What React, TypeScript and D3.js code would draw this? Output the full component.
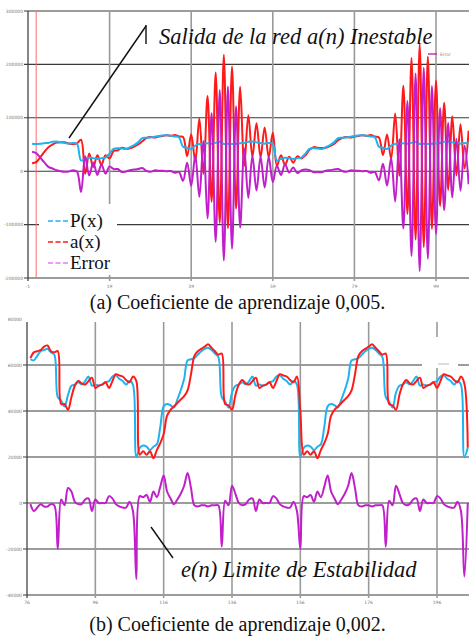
import React from 'react';
import * as d3 from 'd3';

const W = 469;
const H = 639;

// (a) muestras n = 0..107
const topStart = 0;
const topP = [
  51500, 51000, 51500, 52500, 53000, 55000, 55500, 54000, 53000, 51500, 53000, 51500,
  20000, 23000, 25000, 24500, 23000, 24500, 25500, 33000, 42000, 43000, 42500, 41500,
  45000, 49000, 54000, 62000, 62500, 63000, 64500, 66000, 67000, 67500, 66500, 65000,
  63500, 46000, 44000, 41500, 48000, 51000, 51500, 52500, 51500, 53000, 55000, 51000,
  51500, 51000, 51500, 52500, 53000, 55000, 55500, 54000, 53000, 51500, 53000, 51500,
  20000, 23000, 25000, 24500, 23000, 24500, 25500, 33000, 42000, 43000, 42500, 41500,
  45000, 49000, 54000, 62000, 62500, 63000, 64500, 66000, 67000, 67500, 66500, 65000,
  63500, 46000, 44000, 41500, 48000, 51000, 51500, 52500, 51500, 53000, 55000, 51000,
  51500, 51000, 51500, 52500, 53000, 55000, 55500, 54000, 53000, 51500, 53000, 51500,
];
const topA = [
  15000, 17000, 26000, 36000, 45000, 50000, 53500, 54000, 54000, 52000, 51000, 52000,
  59000, -5000, 33000, 8000, 30000, 12000, 30000, 24000, 38000, 39000, 44000, 42000,
  43000, 46000, 50000, 56000, 62000, 64000, 63000, 65000, 66000, 67500, 66000, 68000,
  65000, 64000, 28000, 69000, 18000, 99000, -5000, 141000, -57000, 185000, -97000, 218000,
  -107000, 196000, -70000, 158000, 10000, 105000, 26500, 90000, 26000, 82000, 26000, 72000,
  10000, 30000, 12000, 27000, 16000, 28000, 24000, 30000, 40000, 45000, 44000, 43500,
  44000, 47000, 51000, 58000, 62000, 64000, 63000, 65000, 66000, 67500, 66000, 68000,
  65000, 63000, 30000, 68500, 23000, 108000, -8500, 160000, -80000, 212000, -128000, 238000,
  -142000, 215000, -108000, 170000, -65000, 128000, -35000, 103000, -8000, 88000, 5000, 76000,
];
const topXTicks = [-1, 19, 39, 59, 79, 99];
const topYTicks = [300000, 200000, 100000, 0, -100000, -200000];
const topMarkerN = 1;

// (b) muestras n = 77..205
const botStart = 77;
const botP = [
  62500, 62000, 64000, 66000, 66500, 67000, 65500, 64500, 46000, 44500, 42000, 47000,
  51000, 51500, 52500, 51500, 53000, 55000, 51000, 51500, 51000, 51500, 52500, 53000,
  55000, 55500, 54000, 53000, 51500, 53000, 51500, 20000, 24000, 25000, 24500, 23000,
  24500, 25500, 33000, 42000, 43000, 42500, 41500, 45000, 49000, 54000, 62000, 62500,
  63000, 64500, 66000, 67000, 67500, 66500, 65000, 63500, 46000, 44000, 41500, 48000,
  51000, 51500, 52500, 51500, 53000, 55000, 51000, 51500, 51000, 51500, 52500, 53000,
  55000, 55500, 54000, 53000, 51500, 53000, 51500, 20000, 24000, 25000, 24500, 23000,
  24500, 25500, 33000, 42000, 43000, 42500, 41500, 45000, 49000, 54000, 62000, 62500,
  63000, 64500, 66000, 67000, 67500, 66500, 65000, 63500, 46000, 44000, 41500, 48000,
  51000, 51500, 52500, 51500, 53000, 55000, 51000, 51500, 51000, 51500, 52500, 53000,
  55000, 55500, 54000, 53000, 51500, 53000, 51500, 20000, 24000,
];
const botA = [
  63000, 65500, 66000, 66500, 68000, 68500, 66000, 65500, 66000, 43000, 43000, 40500,
  46000, 51000, 53000, 52000, 51500, 53000, 54500, 50000, 51000, 51500, 52500, 50000,
  53000, 56000, 55500, 55000, 53500, 52500, 55000, 53000, 21000, 22500, 21000, 22500,
  19500, 23000, 26000, 30000, 38000, 40500, 42000, 43500, 45000, 46500, 49000, 56000,
  64000, 66000, 67000, 68000, 69000, 67500, 66000, 64500, 65000, 43000, 42500, 40500,
  47000, 51500, 53500, 52000, 51500, 53000, 54500, 50000, 51000, 51500, 52500, 50000,
  53000, 56000, 55500, 55000, 53500, 52500, 55000, 40000, 21000, 22500, 21000, 22500,
  19500, 23000, 26000, 30000, 38000, 40500, 42000, 43500, 45000, 46500, 49000, 56000,
  64000, 66000, 67000, 68000, 69000, 67500, 66000, 64500, 65000, 43000, 42500, 40500,
  47000, 51500, 53500, 52000, 51500, 53000, 54500, 50000, 51000, 51500, 52500, 50000,
  53000, 56000, 55500, 55000, 53500, 52500, 55000, 52000, 24000,
];
const botXTicks = [76, 96, 116, 136, 156, 176, 196];
const botYTicks = [80000, 60000, 40000, 20000, 0, -20000, -40000];

const legendNames = ['P(x)', 'a(x)', 'Error'];
const captionA = '(a) Coeficiente de aprendizaje 0,005.';
const captionB = '(b) Coeficiente de aprendizaje 0,002.';
const noteA = 'Salida de la red a(n) Inestable';
const noteB = 'e(n) Limite de Estabilidad';

const cP = '#1fb3ee';
const cA = '#ff1a1a';
const cE = '#c01fcb';
const legendColors = [cP, cA, '#e07ef0'];

const serif = 'Liberation Serif';
const tiny = 'DejaVu Sans';

type Pt = [number, number];
const toPts = (start: number, vals: number[]): Pt[] => vals.map((v, i) => [start + i, v]);

export default function App() {
  const xT = d3.scaleLinear().domain([-1, 99]).range([28, 436]);
  const yT = d3.scaleLinear().domain([-200000, 300000]).range([278, 11]);
  const xB = d3.scaleLinear().domain([76, 196]).range([27, 437]);
  const yB = d3.scaleLinear().domain([-40000, 80000]).range([595, 319]);

  const curve = d3.curveCatmullRom.alpha(0.5);
  const lineT = d3.line<Pt>().x(d => xT(d[0])).y(d => yT(d[1])).curve(curve);
  const lineB = d3.line<Pt>().x(d => xB(d[0])).y(d => yB(d[1])).curve(curve);

  const topE = topP.map((p, i) => p - topA[i]);
  const botE = botP.map((p, i) => p - botA[i]);

  return (
    <div style={{ position: 'absolute', left: 0, top: 0 }}>
      <svg width={W} height={H} style={{ display: 'block', background: '#fff' }}>
        <defs>
          <clipPath id="clipT"><rect x={28} y={0} width={W - 28} height={285} /></clipPath>
          <clipPath id="clipB"><rect x={27} y={318} width={W - 27} height={282} /></clipPath>
        </defs>

        {/* ---------- panel (a) ---------- */}
        <g>
          {topYTicks.map(t => (
            <g key={'ty' + t}>
              <line x1={24} x2={W} y1={yT(t)} y2={yT(t)} stroke="#3a3a3a" strokeWidth={1.1} />
              <text x={23} y={yT(t) + 1.6} fontSize={4.5} fontFamily={tiny} fill="#777" textAnchor="end">{t}</text>
            </g>
          ))}
          {topXTicks.map(t => (
            <g key={'tx' + t}>
              {t !== -1 && <line x1={xT(t)} x2={xT(t)} y1={yT(300000)} y2={281} stroke="#9a9a9a" strokeWidth={1.6} />}
              <text x={xT(t)} y={288} fontSize={4.5} fontFamily={tiny} fill="#777" textAnchor="middle">{t}</text>
            </g>
          ))}
          <line x1={28} x2={28} y1={yT(300000)} y2={281} stroke="#444" strokeWidth={1.3} />
          <line x1={xT(topMarkerN)} x2={xT(topMarkerN)} y1={yT(300000)} y2={278} stroke="#ff6a6a" strokeWidth={1} />

          <rect x={39} y={204} width={78} height={71} fill="#fff" />

          <g clipPath="url(#clipT)" fill="none" strokeWidth={2} strokeLinejoin="round">
            <path d={lineT(toPts(topStart, topA)) ?? ''} stroke={cA} />
            <path d={lineT(toPts(topStart, topP)) ?? ''} stroke={cP} />
            <path d={lineT(toPts(topStart, topE)) ?? ''} stroke={cE} />
          </g>

          {legendNames.map((name, i) => (
            <g key={name}>
              <line x1={48} x2={68} y1={221 + i * 21} y2={221 + i * 21} stroke={legendColors[i]} strokeWidth={1.6} strokeDasharray="5 2.5" />
              <text x={70} y={227 + i * 21} fontSize={19} fontFamily={serif} fill="#111">{name}</text>
            </g>
          ))}

          <line x1={428} x2={437} y1={54} y2={54} stroke={cE} strokeWidth={1.4} />
          <text x={440} y={56} fontSize={4.5} fontFamily={tiny} fill="#888">Error</text>

          <line x1={146} x2={69} y1={26} y2={138} stroke="#111" strokeWidth={1.4} />
          <line x1={146} x2={146} y1={25} y2={44} stroke="#111" strokeWidth={1.4} />
          <text x={159} y={44} fontSize={22.5} fontStyle="italic" fontFamily={serif} fill="#111">{noteA}</text>

          <text x={237.5} y={309} fontSize={20} fontFamily={serif} fill="#111" textAnchor="middle">{captionA}</text>
        </g>

        {/* ---------- panel (b) ---------- */}
        <g>
          {botYTicks.map(t => (
            <g key={'by' + t}>
              {t !== 80000 && <line x1={23} x2={W} y1={yB(t)} y2={yB(t)} stroke="#3a3a3a" strokeWidth={1.1} />}
              <text x={22} y={yB(t) + 1.6} fontSize={4.5} fontFamily={tiny} fill="#777" textAnchor="end">{t}</text>
            </g>
          ))}
          {botXTicks.map(t => (
            <g key={'bx' + t}>
              {t !== 76 && <line x1={xB(t)} x2={xB(t)} y1={322} y2={598} stroke="#9a9a9a" strokeWidth={1.6} />}
              <text x={xB(t)} y={604} fontSize={4.5} fontFamily={tiny} fill="#777" textAnchor="middle">{t}</text>
            </g>
          ))}
          <line x1={27} x2={27} y1={322} y2={598} stroke="#444" strokeWidth={1.3} />

          <rect x={422} y={337} width={36} height={31} fill="#fff" />
          <line x1={438} x2={449} y1={364} y2={364} stroke="#bbb" strokeWidth={1} />

          <g clipPath="url(#clipB)" fill="none" strokeWidth={2} strokeLinejoin="round">
            <path d={lineB(toPts(botStart, botP)) ?? ''} stroke={cP} />
            <path d={lineB(toPts(botStart, botA)) ?? ''} stroke={cA} />
            <path d={lineB(toPts(botStart, botE)) ?? ''} stroke={cE} />
          </g>

          <line x1={151} x2={173} y1={527} y2={558} stroke="#111" strokeWidth={1.4} />
          <text x={181} y={577} fontSize={22.5} fontStyle="italic" fontFamily={serif} fill="#111">{noteB}</text>

          <text x={237.5} y={631} fontSize={20} fontFamily={serif} fill="#111" textAnchor="middle">{captionB}</text>
        </g>
      </svg>
    </div>
  );
}
